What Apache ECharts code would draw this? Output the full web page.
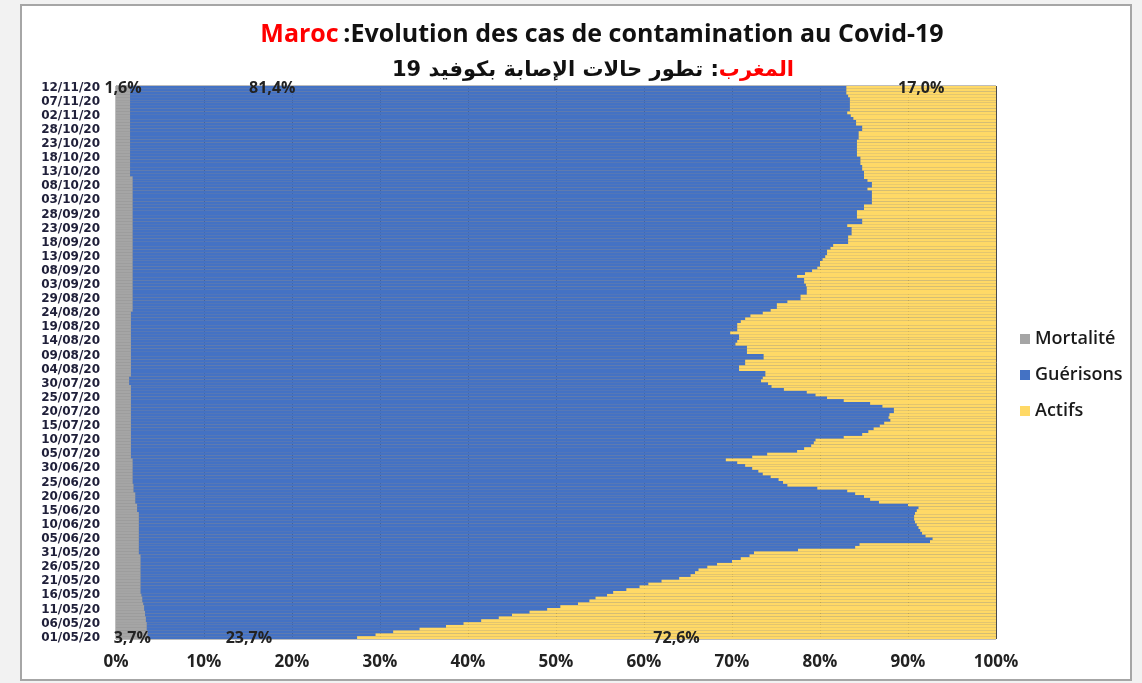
<!DOCTYPE html>
<html>
<head>
<meta charset="utf-8">
<title>Maroc Covid-19</title>
<script src="https://cdn.jsdelivr.net/npm/echarts@6/dist/echarts.min.js"></script>
<style>
  html, body { margin: 0; padding: 0; background: #f2f2f2; }
  #main { width: 1142px; height: 683px; }
</style>
</head>
<body>
<div id="main"></div>
<script>
// parts (%) per day, from 01/05/20 (bottom) to 12/11/20 (top)
const startDate = new Date(2020, 4, 1)
const dayCount = 196

const mortalite = [
  3.7,3.6,3.6,3.5,3.5,3.5,3.4,3.4,3.3,3.3,
  3.2,3.2,3.1,3.0,3.0,2.9,2.8,2.8,2.8,2.8,
  2.8,2.8,2.8,2.8,2.8,2.8,2.8,2.8,2.8,2.8,
  2.6,2.6,2.6,2.6,2.6,2.6,2.6,2.6,2.6,2.6,
  2.6,2.6,2.6,2.6,2.6,2.4,2.4,2.4,2.2,2.2,
  2.2,2.2,2.0,2.0,2.0,1.9,1.9,1.9,1.9,1.9,
  1.9,1.9,1.9,1.9,1.7,1.7,1.7,1.7,1.7,1.7,
  1.7,1.7,1.7,1.7,1.7,1.7,1.7,1.7,1.7,1.7,
  1.7,1.7,1.7,1.7,1.7,1.7,1.7,1.7,1.7,1.7,
  1.5,1.5,1.5,1.7,1.7,1.7,1.7,1.7,1.7,1.7,
  1.7,1.7,1.7,1.7,1.7,1.7,1.7,1.7,1.7,1.7,
  1.7,1.7,1.7,1.7,1.7,1.7,1.9,1.9,1.9,1.9,
  1.9,1.9,1.9,1.9,1.9,1.9,1.9,1.9,1.9,1.9,
  1.9,1.9,1.9,1.9,1.9,1.9,1.9,1.9,1.9,1.9,
  1.9,1.9,1.9,1.9,1.9,1.9,1.9,1.9,1.9,1.9,
  1.9,1.9,1.9,1.9,1.9,1.9,1.9,1.9,1.9,1.9,
  1.9,1.9,1.9,1.9,1.6,1.6,1.6,1.6,1.6,1.6,
  1.6,1.6,1.6,1.6,1.6,1.6,1.6,1.6,1.6,1.6,
  1.6,1.6,1.6,1.6,1.6,1.6,1.6,1.6,1.6,1.6,
  1.6,1.6,1.6,1.6,1.6,1.6
]

const guerisons = [
  23.7,25.9,27.9,31.0,34.0,36.0,38.1,40.1,41.7,43.7,
  45.8,47.3,49.4,50.8,51.5,52.9,53.7,55.2,56.7,57.7,
  59.2,61.2,62.5,63.0,63.4,64.4,65.5,67.2,68.2,69.2,
  69.9,74.9,81.4,81.9,89.9,90.2,89.4,89.0,88.8,88.6,
  88.4,88.2,88.1,88.1,88.2,88.6,88.8,87.6,84.5,83.5,
  82.8,81.8,81.1,77.7,74.3,73.9,73.4,72.5,71.6,71.1,
  70.4,69.6,68.7,67.4,70.6,72.3,75.7,76.5,77.3,77.6,
  77.8,81.0,83.1,83.8,84.4,85.1,85.6,86.3,86.1,86.2,
  86.7,86.7,85.4,84.0,81.0,79.1,77.8,76.8,74.2,72.8,
  72.6,71.8,72.0,72.1,72.1,69.1,69.1,69.8,69.8,71.9,
  71.9,70.0,70.0,70.0,68.7,68.9,69.1,69.1,68.1,68.9,
  68.9,68.9,69.3,69.8,70.4,71.8,72.5,73.2,73.2,74.4,
  75.9,75.9,76.6,76.6,76.6,76.5,76.3,76.3,75.5,76.4,
  77.2,77.8,78.1,78.1,78.4,78.7,78.9,78.9,79.3,79.6,
  81.3,81.3,81.3,81.7,81.7,81.7,81.2,82.9,82.9,82.3,
  82.3,82.3,83.1,83.1,84.0,84.0,84.0,84.0,84.0,83.5,
  84.0,84.0,83.5,83.1,83.4,83.4,83.2,83.2,83.0,83.0,
  83.0,82.6,82.6,82.6,82.6,82.6,82.6,82.8,82.8,82.8,
  83.2,83.2,82.5,82.5,82.2,81.9,81.5,81.8,81.8,81.8,
  81.8,81.8,81.6,81.4,81.4,81.4
]

const actifs = [
  72.6,70.5,68.5,65.5,62.5,60.5,58.5,56.5,55.0,53.0,
  51.0,49.5,47.5,46.2,45.5,44.2,43.5,42.0,40.5,39.5,
  38.0,36.0,34.7,34.2,33.8,32.8,31.7,30.0,29.0,28.0,
  27.5,22.5,16.0,15.5,7.5,7.2,8.0,8.4,8.6,8.8,
  9.0,9.2,9.3,9.3,9.2,9.0,8.8,10.0,13.3,14.3,
  15.0,16.0,16.9,20.3,23.7,24.2,24.7,25.6,26.5,27.0,
  27.7,28.5,29.4,30.7,27.7,26.0,22.6,21.8,21.0,20.7,
  20.5,17.3,15.2,14.5,13.9,13.2,12.7,12.0,12.2,12.1,
  11.6,11.6,12.9,14.3,17.3,19.2,20.5,21.5,24.1,25.5,
  25.9,26.7,26.5,26.2,26.2,29.2,29.2,28.5,28.5,26.4,
  26.4,28.3,28.3,28.3,29.6,29.4,29.2,29.2,30.2,29.4,
  29.4,29.4,29.0,28.5,27.9,26.5,25.6,24.9,24.9,23.7,
  22.2,22.2,21.5,21.5,21.5,21.6,21.8,21.8,22.6,21.7,
  20.9,20.3,20.0,20.0,19.7,19.4,19.2,19.2,18.8,18.5,
  16.8,16.8,16.8,16.4,16.4,16.4,16.9,15.2,15.2,15.8,
  15.8,15.8,15.0,15.0,14.1,14.1,14.1,14.1,14.1,14.6,
  14.1,14.1,14.6,15.0,15.0,15.0,15.2,15.2,15.4,15.4,
  15.4,15.8,15.8,15.8,15.8,15.8,15.8,15.6,15.6,15.6,
  15.2,15.2,15.9,15.9,16.2,16.5,16.9,16.6,16.6,16.6,
  16.6,16.6,16.8,17.0,17.0,17.0
]

const seriesNames = ['Mortalité', 'Guérisons', 'Actifs']
const seriesColors = ['#a5a5a5', '#4472c4', '#ffd966']

// dates jj/mm/aa
const dates = []
for (let i = 0; i < dayCount; i++) {
  const d = new Date(startDate.getFullYear(), startDate.getMonth(), startDate.getDate() + i)
  const dd = String(d.getDate()).padStart(2, '0')
  const mm = String(d.getMonth() + 1).padStart(2, '0')
  const yy = String(d.getFullYear()).slice(2)
  dates.push(dd + '/' + mm + '/' + yy)
}

const fmt = v => v.toFixed(1).replace('.', ',') + '%'
const last = dayCount - 1

// labels only on first and last day; offsets move them like in the original
function withLabels(arr, offFirst, offLast) {
  return arr.map((v, i) => {
    if (i === 0) return { value: v, label: { show: true, offset: offFirst } }
    if (i === last) return { value: v, label: { show: true, offset: offLast } }
    return v
  })
}

const chart = echarts.init(document.getElementById('main'))
const font = 'Open Sans, Noto Sans, DejaVu Sans, sans-serif'

const option = {
  backgroundColor: '#f2f2f2',
  animation: false,
  textStyle: { fontFamily: font },
  graphic: [{
    type: 'rect',
    z: -10,
    shape: { x: 21, y: 5, width: 1110, height: 675 },
    style: { fill: '#fff', stroke: '#a6a6a6', lineWidth: 2 }
  }],
  title: [
    {
      left: 597,
      top: 17,
      textAlign: 'center',
      text: '{r|Maroc} {b|:Evolution des cas de contamination au Covid-19}',
      textStyle: {
        rich: {
          r: { color: '#ff0000', fontSize: 25, fontWeight: 'bold', fontFamily: font },
          b: { color: '#111', fontSize: 25, fontWeight: 'bold', fontFamily: font }
        }
      }
    },
    {
      left: 588,
      top: 55,
      textAlign: 'center',
      text: '{b|تطور حالات الإصابة بكوفيد 19 :}{r|المغرب}',
      textStyle: {
        rich: {
          r: { color: '#ff0000', fontSize: 21, fontWeight: 'bold', fontFamily: 'DejaVu Sans' },
          b: { color: '#111', fontSize: 21, fontWeight: 'bold', fontFamily: 'DejaVu Sans' }
        }
      }
    }
  ],
  legend: {
    data: seriesNames,
    orient: 'vertical',
    left: 1015,
    top: 325,
    itemWidth: 10,
    itemHeight: 10,
    itemGap: 18,
    icon: 'rect',
    textStyle: { fontSize: 18, color: '#1a1a1a', fontWeight: 600, fontFamily: font }
  },
  grid: {
    left: 116,
    right: 146,
    top: 86,
    bottom: 44,
    show: true,
    backgroundColor: '#8c8c8c',
    borderColor: '#7a7a7a',
    borderWidth: 1
  },
  xAxis: {
    type: 'value',
    min: 0,
    max: 100,
    interval: 10,
    axisLine: { show: false },
    axisTick: { show: false },
    axisLabel: {
      formatter: '{value}%',
      margin: 15,
      fontSize: 17,
      fontWeight: 'bold',
      color: '#222'
    },
    splitLine: { lineStyle: { color: '#4a4a4a', width: 1 } }
  },
  yAxis: {
    type: 'category',
    data: dates,
    axisTick: { show: false },
    axisLine: { lineStyle: { color: '#8a8a8a' } },
    axisLabel: {
      interval: 4,
      margin: 16,
      fontSize: 12,
      fontWeight: 'bold',
      fontFamily: 'DejaVu Sans',
      color: '#20203a'
    }
  },
  series: [
    {
      name: 'Mortalité',
      type: 'bar',
      stack: 'total',
      barCategoryGap: '6%',
      data: withLabels(mortalite, [0, 1], [0, 1])
    },
    {
      name: 'Guérisons',
      type: 'bar',
      stack: 'total',
      barCategoryGap: '6%',
      data: withLabels(guerisons, [-4, 1], [-216, 1])
    },
    {
      name: 'Actifs',
      type: 'bar',
      stack: 'total',
      barCategoryGap: '6%',
      data: withLabels(actifs, [0, 1], [0, 1])
    }
  ].map((s, k) => Object.assign(s, {
    itemStyle: { color: seriesColors[k] },
    emphasis: { disabled: true },
    label: {
      show: false,
      position: 'inside',
      formatter: p => fmt(p.value),
      fontSize: 16,
      fontWeight: 'bold',
      color: '#222'
    }
  }))
}

chart.setOption(option)
</script>
</body>
</html>
